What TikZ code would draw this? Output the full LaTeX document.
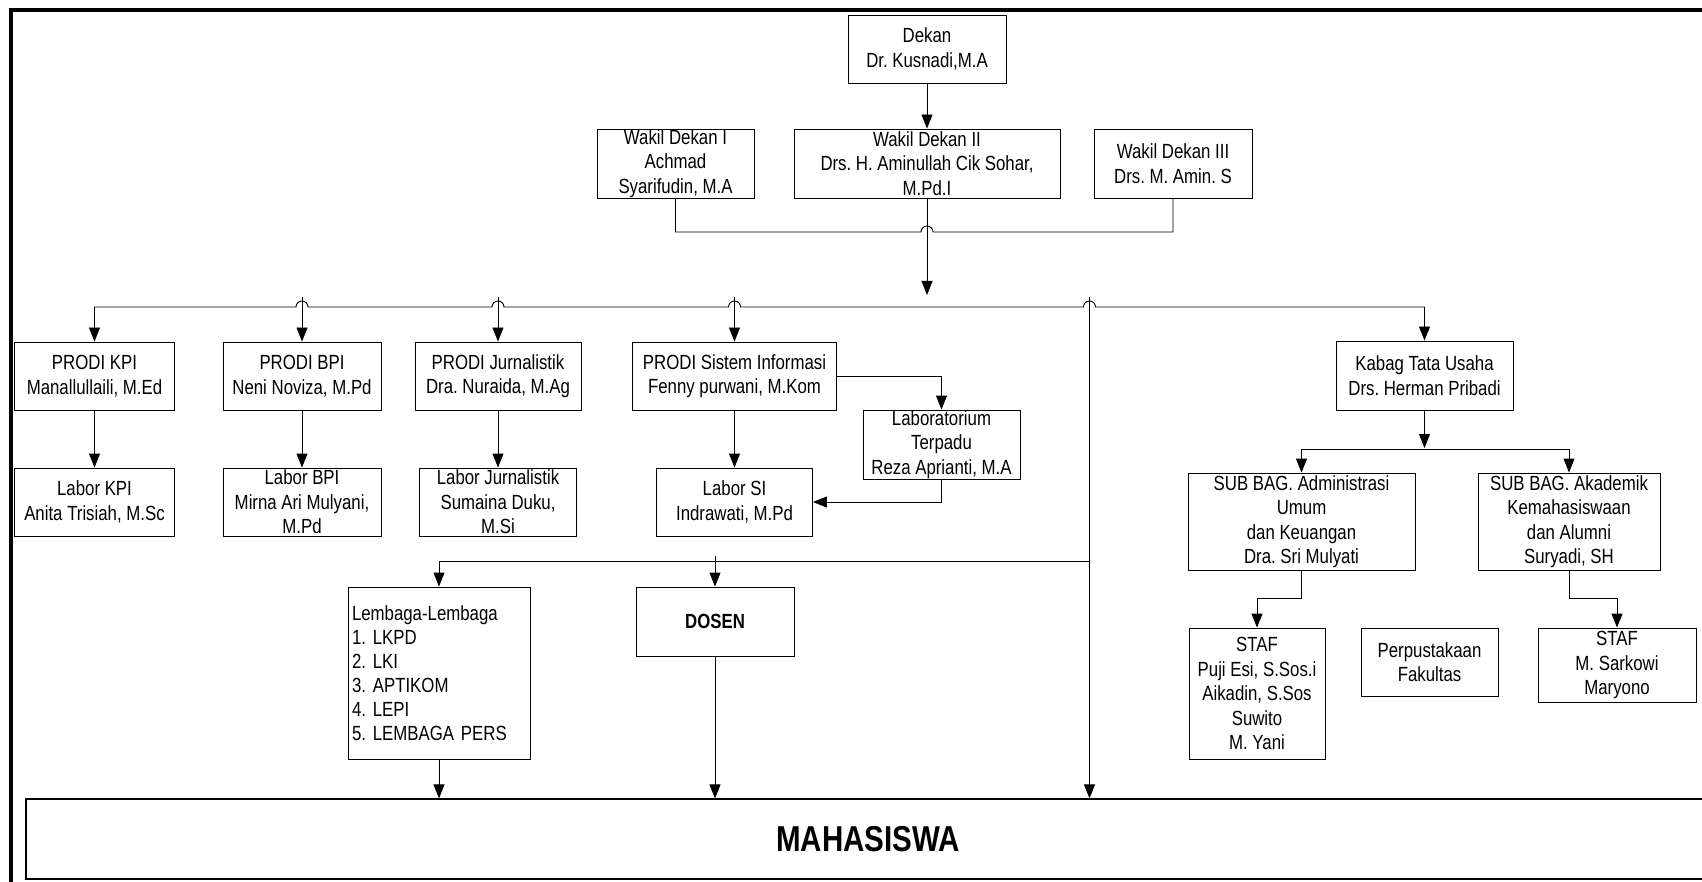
\documentclass[tikz,border=0pt]{standalone}
\usepackage{fontspec}
\setmainfont{Liberation Sans}[FakeStretch=0.82]
\frenchspacing
\usetikzlibrary{arrows.meta}
\tikzset{unit/.style={draw,line width=0.9pt,align=center,inner sep=0pt,
    font=\fontsize{20.5}{24.5}\selectfont}}

\begin{document}
\begin{tikzpicture}[x=1pt,y=1pt,
            link/.style={draw,line width=0.9pt},
            feed/.style={link,-{Triangle[length=14pt,width=11pt]}},
            feeds/.style={link,{Triangle[length=14pt,width=11pt]}-{Triangle[length=14pt,width=11pt]}}
            ]
            \clip (0,0) rectangle (1702,-882);
            \draw[line width=4pt] (11,-10) rectangle (1760,-930);
            \node[unit,minimum width=158pt,minimum height=68pt] (dekan) at (927,-49) {Dekan\\Dr. Kusnadi,M.A};
            \node[unit,minimum width=157pt,minimum height=69pt] (wdI) at (675.5,-163.5) {Wakil Dekan I\\Achmad\\Syarifudin, M.A};
            \node[unit,minimum width=266pt,minimum height=69pt] (wdII) at (927,-163.5) {Wakil Dekan II\\Drs. H. Aminullah Cik Sohar,\\M.Pd.I};
            \node[unit,minimum width=158pt,minimum height=69pt] (wdIII) at (1173,-163.5) {Wakil Dekan III\\Drs. M. Amin. S};
            \node[unit,minimum width=160pt,minimum height=68pt] (kpi) at (94.5,-376) {PRODI KPI\\Manallullaili, M.Ed};
            \node[unit,minimum width=158pt,minimum height=68pt] (bpi) at (302,-376) {PRODI BPI\\Neni Noviza, M.Pd};
            \node[unit,minimum width=166pt,minimum height=68pt] (jurn) at (498,-376) {PRODI Jurnalistik\\Dra. Nuraida, M.Ag};
            \node[unit,minimum width=204pt,minimum height=68pt] (si) at (734.5,-376) {PRODI Sistem Informasi\\Fenny purwani, M.Kom};
            \node[unit,minimum width=160pt,minimum height=68pt] (lkpi) at (94.5,-502) {Labor KPI\\Anita Trisiah, M.Sc};
            \node[unit,minimum width=158pt,minimum height=68pt] (lbpi) at (302,-502) {Labor BPI\\Mirna Ari Mulyani,\\M.Pd};
            \node[unit,minimum width=157pt,minimum height=68pt] (ljurn) at (498,-502) {Labor Jurnalistik\\Sumaina Duku,\\M.Si};
            \node[unit,minimum width=156pt,minimum height=68pt] (lsi) at (734.5,-502) {Labor SI\\Indrawati, M.Pd};
            \node[unit,minimum width=157pt,minimum height=69pt] (lab) at (941.5,-444.5) {Laboratorium\\Terpadu\\Reza Aprianti, M.A};
            \node[unit,minimum width=177pt,minimum height=69pt] (kabag) at (1424.5,-375.5) {Kabag Tata Usaha\\Drs. Herman Pribadi};
            \node[unit,minimum width=227pt,minimum height=97pt] (subadm) at (1301.5,-521.5) {SUB BAG. Administrasi\\Umum\\dan Keuangan\\Dra. Sri Mulyati};
            \node[unit,minimum width=182pt,minimum height=97pt] (subak) at (1569,-521.5) {SUB BAG. Akademik\\Kemahasiswaan\\dan Alumni\\Suryadi, SH};
            \node[unit,minimum width=136pt,minimum height=131pt] (staf1) at (1257,-693.5) {STAF\\Puji Esi, S.Sos.i\\Aikadin, S.Sos\\Suwito\\M. Yani};
            \node[unit,minimum width=137pt,minimum height=68pt] (perpus) at (1429.5,-662) {Perpustakaan\\Fakultas};
            \node[unit,minimum width=158pt,minimum height=74pt] (staf2) at (1617,-665) {STAF\\M. Sarkowi\\Maryono};
            \node[unit,align=left,text width=174pt,inner xsep=4pt,minimum height=172pt,
                font=\fontsize{20.5}{24}\selectfont] (lembaga) at (439,-673)
                {Lembaga-Lembaga\\1. LKPD\\2. LKI\\3. APTIKOM\\4. LEPI\\5. LEMBAGA PERS};
            \node[unit,minimum width=158pt,minimum height=69pt,font=\fontsize{20.5}{24.5}\selectfont\bfseries] (dosen) at (715,-621.5) {DOSEN};
            \node[unit,line width=1.2pt,minimum width=1684pt,minimum height=80pt,
                font=\fontsize{36}{40}\selectfont\bfseries] (mhs) at (868,-839) {MAHASISWA};
            \coordinate (hub) at (927,-295);
            \coordinate (jtop) at (1089.5,-297);
            \coordinate (kab) at (1424.5,-448);
            \draw[feed] (dekan) -- (wdII);
            \draw[link] (wdI.south) -- (wdI.south |- 0,-232) -- (921,-232)
                arc[start angle=180,end angle=0,radius=6] -- (wdIII.south |- 0,-232) -- (wdIII.south);
            \draw[feed] (wdII) -- (hub);
            \draw[feeds] (kpi.north) -- (kpi.north |- 0,-307) -- (296,-307)
                arc[start angle=180,end angle=0,radius=6] -- (492,-307)
                arc[start angle=180,end angle=0,radius=6] -- (728.5,-307)
                arc[start angle=180,end angle=0,radius=6] -- (1083.5,-307)
                arc[start angle=180,end angle=0,radius=6] -- (kabag.north |- 0,-307) -- (kabag.north);
            \draw[feed] (bpi.north |- jtop) -- (bpi);
            \draw[feed] (jurn.north |- jtop) -- (jurn);
            \draw[feed] (si.north |- jtop) -- (si);
            \draw[feed] (kpi) -- (lkpi);
            \draw[feed] (bpi) -- (lbpi);
            \draw[feed] (jurn) -- (ljurn);
            \draw[feed] (si) -- (lsi);
            \draw[feed] (si.east) -| (lab.north);
            \draw[feed] (lab.south) |- (lsi.east);
            \draw[feed] (kabag) -- (kab);
            \draw[feeds] (subadm.north) -- ++(0,23) -| (subak.north);
            \draw[feed] (subadm.south) -- ++(0,-28) -| (staf1.north);
            \draw[feed] (subak.south) -- ++(0,-28) -| (staf2.north);
            \draw[feed] (jtop) -- (jtop |- mhs.north);
            \draw[feed] (jtop |- 0,-561) -| (lembaga.north);
            \draw[feed] (dosen.north |- 0,-556) -- (dosen.north);
            \draw[feed] (lembaga) -- (lembaga |- mhs.north);
            \draw[feed] (dosen) -- (dosen |- mhs.north);
        \end{tikzpicture}
\end{document}
